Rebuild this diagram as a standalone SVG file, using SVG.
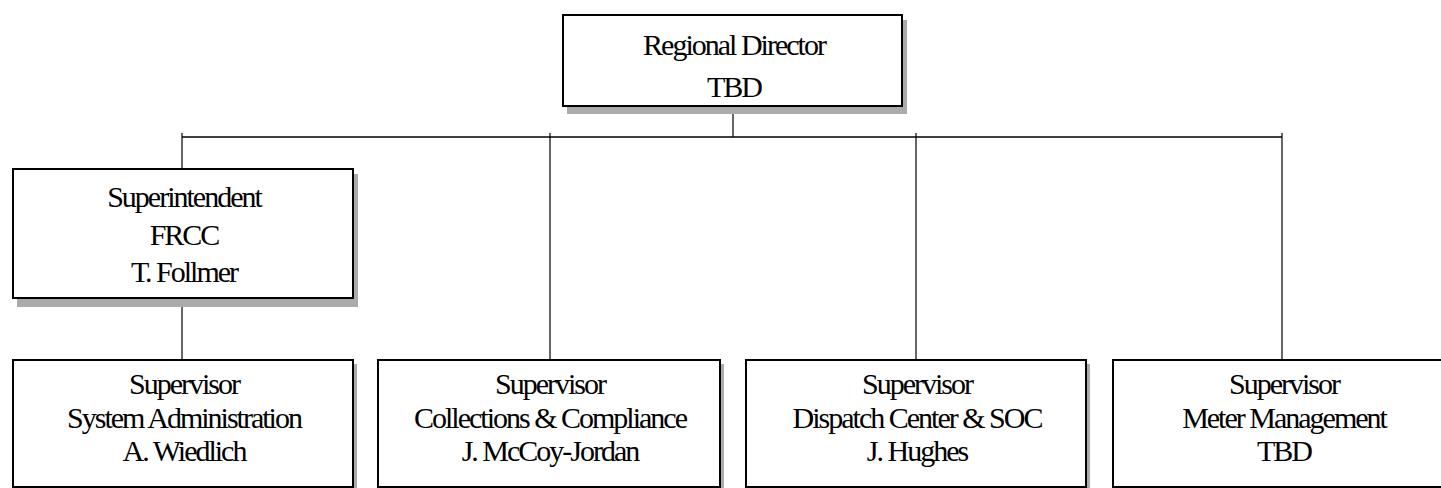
<svg xmlns="http://www.w3.org/2000/svg" width="1441" height="488" viewBox="0 0 1441 488">
  <style>
    .shadow { fill: #ababab; }
    .box { fill: #ffffff; stroke: #000000; stroke-width: 2; }
    .lbl { font-family: "Liberation Serif", "Times New Roman", serif; font-size: 30px; letter-spacing: -2px; fill: #000000; text-anchor: middle; }
    .wire { stroke: #000000; stroke-width: 1.2; fill: none; }
    .bus { stroke: #000000; stroke-width: 1.6; fill: none; }
  </style>
  <rect width="1441" height="488" fill="#ffffff"/>

  <!-- reporting lines -->
  <g id="connectors">
    <line class="wire" x1="733" y1="113" x2="733" y2="137"/>
    <line class="bus" x1="182" y1="137" x2="1282" y2="137"/>
    <line class="wire" x1="182" y1="133" x2="182" y2="169"/>
    <line class="wire" x1="550" y1="133" x2="550" y2="359"/>
    <line class="wire" x1="916" y1="133" x2="916" y2="359"/>
    <line class="wire" x1="1282" y1="133" x2="1282" y2="359"/>
    <line class="wire" x1="182" y1="305" x2="182" y2="360"/>
  </g>

  <g id="regional-director">
    <rect class="shadow" x="567" y="20" width="340" height="94"/>
    <rect class="box" x="563" y="15" width="339" height="91"/>
    <text class="lbl" x="734" y="55">Regional Director</text>
    <text class="lbl" x="734" y="97">TBD</text>
  </g>

  <g id="superintendent">
    <rect class="shadow" x="17" y="174" width="341" height="133"/>
    <rect class="box" x="13" y="169" width="340" height="129"/>
    <text class="lbl" x="184" y="207">Superintendent</text>
    <text class="lbl" x="184" y="245">FRCC</text>
    <text class="lbl" x="184" y="282">T. Follmer</text>
  </g>

  <g id="sup-system-admin">
    <rect class="shadow" x="17" y="364" width="340" height="130"/>
    <rect class="box" x="13" y="360" width="340" height="127"/>
    <text class="lbl" x="184" y="394">Supervisor</text>
    <text class="lbl" x="184" y="428">System Administration</text>
    <text class="lbl" x="184" y="461">A. Wiedlich</text>
  </g>

  <g id="sup-collections">
    <rect class="shadow" x="382" y="364" width="342" height="130"/>
    <rect class="box" x="378" y="360" width="342" height="127"/>
    <text class="lbl" x="550" y="394">Supervisor</text>
    <text class="lbl" x="550" y="428">Collections &amp; Compliance</text>
    <text class="lbl" x="550" y="461">J. McCoy-Jordan</text>
  </g>

  <g id="sup-dispatch">
    <rect class="shadow" x="750" y="364" width="340" height="130"/>
    <rect class="box" x="746" y="360" width="340" height="127"/>
    <text class="lbl" x="917" y="394">Supervisor</text>
    <text class="lbl" x="917" y="428">Dispatch Center &amp; SOC</text>
    <text class="lbl" x="917" y="461">J. Hughes</text>
  </g>

  <g id="sup-meter">
    <rect class="shadow" x="1117" y="364" width="340" height="130"/>
    <rect class="box" x="1113" y="360" width="340" height="127"/>
    <text class="lbl" x="1284" y="394">Supervisor</text>
    <text class="lbl" x="1284" y="428">Meter Management</text>
    <text class="lbl" x="1284" y="461">TBD</text>
  </g>
</svg>
